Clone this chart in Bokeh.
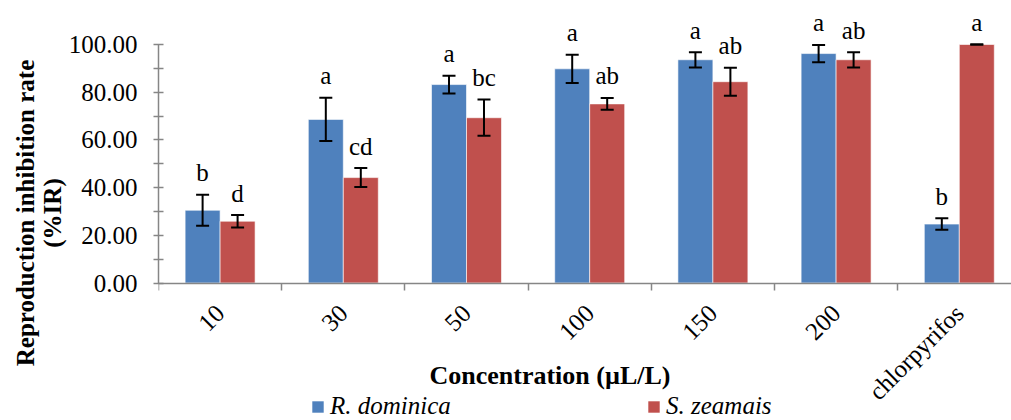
import math
from bokeh.plotting import figure
from bokeh.models import (ColumnDataSource, Range1d, FixedTicker, PrintfTickFormatter,
                          Whisker, TeeHead, Label, Legend, LegendItem, Title)
from bokeh.core.properties import value
from bokeh.embed import file_html
from bokeh.resources import INLINE

categories = ["10", "30", "50", "100", "150", "200", "chlorpyrifos"]
rd_values = [30.5, 68.6, 83.2, 89.8, 93.6, 96.2, 24.7]
rd_errors = [6.5, 9.1, 3.7, 5.9, 3.2, 3.6, 2.4]
rd_letters = ["b", "a", "a", "a", "a", "a", "b"]
sz_values = [25.9, 44.2, 69.3, 75.1, 84.4, 93.6, 100.0]
sz_errors = [2.6, 4.0, 7.6, 2.5, 5.9, 3.2, 0.0]
sz_letters = ["d", "cd", "bc", "ab", "ab", "ab", "a"]
y_ticks = [0, 20, 40, 60, 80, 100]
y_minor = [10, 30, 50, 70, 90]

FONT = "Liberation Serif"
BLUE = "#4F81BD"
RED = "#C0504D"
AXIS = "#868686"

PX_PER_CAT = 123.2
PX_PER_UNIT = 2.385
FRAME_TOP = 5
FRAME_H = 415
ZERO_Y = 282.5

bw = 0.284
centers = [i + 0.5 for i in range(len(categories))]


def make_source(vals, errs, letters, shift):
    return ColumnDataSource(dict(
        x=[c + shift for c in centers],
        top=vals,
        lower=[v - e for v, e in zip(vals, errs)],
        upper=[v + e for v, e in zip(vals, errs)],
        letter=letters,
    ))


src_rd = make_source(rd_values, rd_errors, rd_letters, -bw / 2)
src_sz = make_source(sz_values, sz_errors, sz_letters, bw / 2)

y_end = (ZERO_Y - FRAME_TOP) / PX_PER_UNIT
y_start = -(FRAME_TOP + FRAME_H - ZERO_Y) / PX_PER_UNIT

p = figure(frame_width=853, frame_height=FRAME_H, output_backend="svg", toolbar_location=None,
           x_range=Range1d(0, 853 / PX_PER_CAT), y_range=Range1d(y_start, y_end),
           min_border_left=158, min_border_right=0, min_border_top=FRAME_TOP,
           min_border_bottom=0)
p.outline_line_color = None
p.xgrid.visible = False
p.ygrid.visible = False

r_rd = p.vbar(x="x", top="top", width=bw, source=src_rd, fill_color=BLUE,
              line_color="white", line_alpha=0.6, line_width=1)
r_sz = p.vbar(x="x", top="top", width=bw, source=src_sz, fill_color=RED,
              line_color="white", line_alpha=0.6, line_width=1)

for src in (src_rd, src_sz):
    w = Whisker(base="x", lower="lower", upper="upper", source=src, level="overlay",
                line_color="black", line_width=2,
                upper_head=TeeHead(size=13, line_color="black", line_width=2),
                lower_head=TeeHead(size=13, line_color="black", line_width=2))
    p.add_layout(w)
    p.text(x="x", y="upper", text="letter", source=src, text_align="center",
           text_baseline="alphabetic", y_offset=-22, text_font=value(FONT),
           text_font_size="25px", text_color="black")

# category labels (rotated), anchored at each category centre below the axis
cat_src = ColumnDataSource(dict(x=centers, y=[0] * len(categories), text=categories))
p.text(x="x", y="y", text="text", source=cat_src, angle=math.pi / 4,
       text_align="right", text_baseline="middle", y_offset=26,
       text_font=value(FONT), text_font_size="25px", text_color="black")

# y axis
ya = p.yaxis[0]
ya.ticker = FixedTicker(ticks=y_ticks, minor_ticks=y_minor)
ya.formatter = PrintfTickFormatter(format="%.2f")
ya.bounds = (0, 100)
ya.axis_line_color = AXIS
ya.axis_line_width = 1.5
ya.major_tick_line_color = AXIS
ya.minor_tick_line_color = AXIS
ya.major_tick_line_width = 1.5
ya.minor_tick_line_width = 1.5
ya.major_tick_in = 5
ya.major_tick_out = 5
ya.minor_tick_in = 5
ya.minor_tick_out = 5
ya.major_label_standoff = 16
ya.major_label_text_font = FONT
ya.major_label_text_font_size = "25px"
ya.major_label_text_color = "black"

# x axis drawn at y = 0, with category boundary ticks only
xa = p.xaxis[0]
xa.fixed_location = 0
xa.ticker = FixedTicker(ticks=[], minor_ticks=list(range(len(categories) + 1)))
xa.axis_line_color = AXIS
xa.axis_line_width = 1.5
xa.major_tick_line_color = None
xa.major_tick_in = 0
xa.major_tick_out = 0
xa.minor_tick_line_color = AXIS
xa.minor_tick_line_width = 1.5
xa.minor_tick_in = 0
xa.minor_tick_out = 7
xa.major_label_standoff = 0

# y axis title (two lines)
p.add_layout(Title(text="(%IR)", align="center", offset=39, standoff=0,
                   text_font=FONT, text_font_size="25px", text_font_style="bold",
                   text_color="black"), "left")
p.add_layout(Title(text="Reproduction inhibition rate", align="center", offset=6, standoff=-4,
                   text_font=FONT, text_font_size="25px", text_font_style="bold",
                   text_color="black"), "left")

# x axis title
p.add_layout(Label(x=(549.5 - 158) / PX_PER_CAT, y=(ZERO_Y - 375) / PX_PER_UNIT,
                   text="Concentration (µL/L)", text_align="center",
                   text_baseline="alphabetic", text_font=FONT, text_font_size="26px",
                   text_font_style="bold", text_color="black"))

# legends
for r, lab, xloc in ((r_rd, "R. dominica", 152), (r_sz, "S. zeamais", 488)):
    lg = Legend(items=[LegendItem(label=lab, renderers=[r])], location=(xloc, 0),
                orientation="horizontal", margin=0, padding=0, border_line_color=None,
                background_fill_alpha=0, glyph_width=15, glyph_height=15, label_standoff=5,
                label_text_font=FONT, label_text_font_size="25px",
                label_text_font_style="italic", label_text_color="black")
    p.add_layout(lg)

open("out.html", "w").write(file_html(p, INLINE))
